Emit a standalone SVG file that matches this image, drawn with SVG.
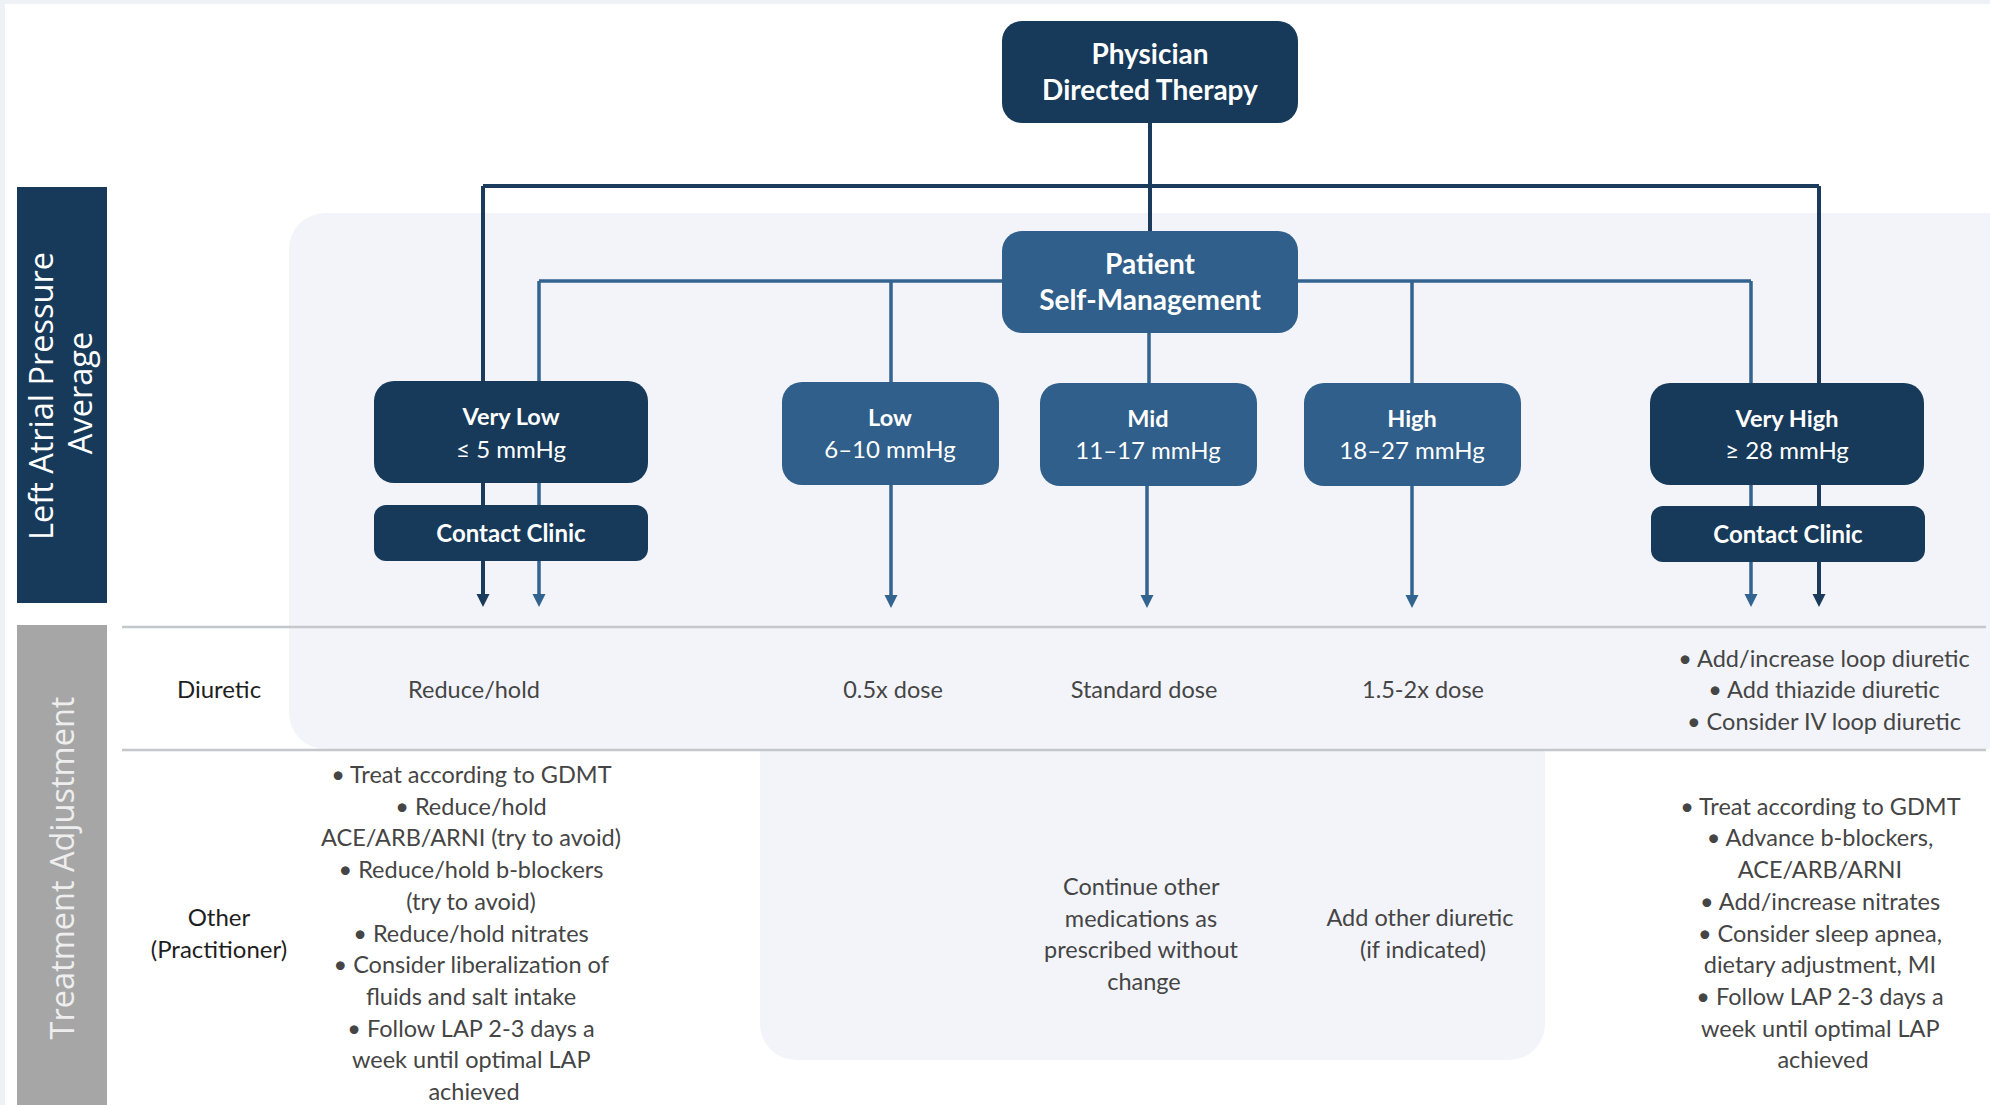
<svg xmlns="http://www.w3.org/2000/svg" width="1990" height="1105" viewBox="0 0 1990 1105">
  <style>
    .dark { fill: #173a5a; }
    .mid { fill: #2f5f8a; }
    .ttl { font-family: Lato, "Liberation Sans", sans-serif; font-weight: 700; fill: #ffffff; text-anchor: middle; }
    .sub { font-family: Lato, "Liberation Sans", sans-serif; font-weight: 400; fill: #ffffff; text-anchor: middle; font-size: 24px; }
    .body { font-family: Lato, "Liberation Sans", sans-serif; font-weight: 400; fill: #454545; text-anchor: middle; font-size: 23.5px; }
    .rowlbl { font-family: Lato, "Liberation Sans", sans-serif; font-weight: 400; fill: #1e1e1e; text-anchor: middle; font-size: 24px; }
    .side { font-family: "Open Sans", "Liberation Sans", sans-serif; font-size: 32.5px; text-anchor: middle; }
    .cdark { stroke: #1b3b5c; stroke-width: 4; fill: none; }
    .cmid { stroke: #33638f; stroke-width: 3.5; fill: none; }
    .sep { stroke: #c4c7cc; stroke-width: 2.5; }
  </style>
  <defs>
    <marker id="arrDark" markerUnits="userSpaceOnUse" markerWidth="14" markerHeight="14" refX="0" refY="6.5" orient="auto">
      <path d="M0,0 L13,6.5 L0,13 Z" fill="#1b3b5c"/>
    </marker>
    <marker id="arrMid" markerUnits="userSpaceOnUse" markerWidth="14" markerHeight="14" refX="0" refY="6.5" orient="auto">
      <path d="M0,0 L13,6.5 L0,13 Z" fill="#33638f"/>
    </marker>
  </defs>

  <!-- background -->
  <rect x="0" y="0" width="1990" height="1105" fill="#ffffff"/>
  <rect x="0" y="0" width="1990" height="4" fill="#eef2f7"/>
  <rect x="0" y="0" width="5" height="1105" fill="#eef2f7"/>

  <!-- shaded panels -->
  <g id="panels">
    <rect x="289" y="213" width="1740" height="536" rx="36" fill="#f2f4f9"/>
    <path d="M760,740 H1545 V1024 A36,36 0 0 1 1509,1060 H796 A36,36 0 0 1 760,1024 Z" fill="#f2f4f9"/>
  </g>

  <!-- side labels -->
  <g id="side-lap">
    <rect x="17" y="187" width="90" height="416" fill="#173a5a"/>
    <text class="side" fill="#ffffff" transform="rotate(-90)" x="-396" y="53">Left Atrial Pressure</text>
    <text class="side" fill="#ffffff" transform="rotate(-90)" x="-393" y="92">Average</text>
  </g>
  <g id="side-treat">
    <rect x="17" y="625" width="90" height="480" fill="#a6a6a6"/>
    <text class="side" fill="#eeeeee" transform="rotate(-90)" x="-868" y="74">Treatment Adjustment</text>
  </g>

  <!-- row separators -->
  <g id="separators">
    <line class="sep" x1="122" y1="627" x2="1986" y2="627"/>
    <line class="sep" x1="122" y1="750" x2="1986" y2="750"/>
  </g>

  <!-- connectors -->
  <g id="connectors">
    <path class="cdark" d="M1150,123 V231"/>
    <path class="cdark" d="M483,186 H1819"/>
    <path class="cdark" d="M483,186 V594" marker-end="url(#arrDark)"/>
    <path class="cdark" d="M1819,186 V594" marker-end="url(#arrDark)"/>
    <path class="cmid" d="M539,281 H1751"/>
    <path class="cmid" d="M539,281 V594" marker-end="url(#arrMid)"/>
    <path class="cmid" d="M1751,281 V594" marker-end="url(#arrMid)"/>
    <path class="cmid" d="M891,281 V384"/>
    <path class="cmid" d="M891,484 V595" marker-end="url(#arrMid)"/>
    <path class="cmid" d="M1149,333 V384"/>
    <path class="cmid" d="M1147,485 V595" marker-end="url(#arrMid)"/>
    <path class="cmid" d="M1412,281 V385"/>
    <path class="cmid" d="M1412,485 V595" marker-end="url(#arrMid)"/>
  </g>

  <!-- nodes -->
  <g id="physician">
    <rect class="dark" x="1002" y="21" width="296" height="102" rx="20"/>
    <text class="ttl" font-size="28" x="1150" y="64">Physician</text>
    <text class="ttl" font-size="28" x="1150" y="100">Directed Therapy</text>
  </g>
  <g id="patient">
    <rect class="mid" x="1002" y="231" width="296" height="102" rx="20"/>
    <text class="ttl" font-size="28" x="1150" y="274">Patient</text>
    <text class="ttl" font-size="28" x="1150" y="310">Self-Management</text>
  </g>
  <g id="very-low">
    <rect class="dark" x="374" y="381" width="274" height="102" rx="20"/>
    <text class="ttl" font-size="23.5" x="511" y="425">Very Low</text>
    <text class="sub" x="511" y="458">≤ 5 mmHg</text>
  </g>
  <g id="contact-low">
    <rect class="dark" x="374" y="505" width="274" height="56" rx="12"/>
    <text class="ttl" font-size="24" x="511" y="542">Contact Clinic</text>
  </g>
  <g id="low">
    <rect class="mid" x="782" y="382" width="217" height="103" rx="20"/>
    <text class="ttl" font-size="23.5" x="890" y="426">Low</text>
    <text class="sub" x="890" y="458">6–10 mmHg</text>
  </g>
  <g id="mid">
    <rect class="mid" x="1040" y="383" width="217" height="103" rx="20"/>
    <text class="ttl" font-size="23.5" x="1148" y="427">Mid</text>
    <text class="sub" x="1148" y="459">11–17 mmHg</text>
  </g>
  <g id="high">
    <rect class="mid" x="1304" y="383" width="217" height="103" rx="20"/>
    <text class="ttl" font-size="23.5" x="1412" y="427">High</text>
    <text class="sub" x="1412" y="459">18–27 mmHg</text>
  </g>
  <g id="very-high">
    <rect class="dark" x="1650" y="383" width="274" height="102" rx="20"/>
    <text class="ttl" font-size="23.5" x="1787" y="427">Very High</text>
    <text class="sub" x="1787" y="459">≥ 28 mmHg</text>
  </g>
  <g id="contact-high">
    <rect class="dark" x="1651" y="506" width="274" height="56" rx="12"/>
    <text class="ttl" font-size="24" x="1788" y="543">Contact Clinic</text>
  </g>

  <!-- table text -->
  <g id="row-diuretic">
    <text class="rowlbl" x="219" y="698">Diuretic</text>
    <text class="body" x="474" y="698">Reduce/hold</text>
    <text class="body" x="893" y="698">0.5x dose</text>
    <text class="body" x="1144" y="698">Standard dose</text>
    <text class="body" x="1423" y="698">1.5-2x dose</text>
    <text class="body" x="1824" y="667">• Add/increase loop diuretic</text>
    <text class="body" x="1824" y="698">• Add thiazide diuretic</text>
    <text class="body" x="1824" y="730">• Consider IV loop diuretic</text>
  </g>
  <g id="row-other">
    <text class="rowlbl" x="219" y="926">Other</text>
    <text class="rowlbl" x="219" y="958">(Practitioner)</text>
    <text class="body" x="474" y="783">
      <tspan x="474" y="783">• Treat according to GDMT</tspan>
      <tspan x="474" y="815">• Reduce/hold</tspan>
      <tspan x="474" y="846">ACE/ARB/ARNI (try to avoid)</tspan>
      <tspan x="474" y="878">• Reduce/hold b-blockers</tspan>
      <tspan x="474" y="910">(try to avoid)</tspan>
      <tspan x="474" y="942">• Reduce/hold nitrates</tspan>
      <tspan x="474" y="973">• Consider liberalization of</tspan>
      <tspan x="474" y="1005">fluids and salt intake</tspan>
      <tspan x="474" y="1037">• Follow LAP 2-3 days a</tspan>
      <tspan x="474" y="1068">week until optimal LAP</tspan>
      <tspan x="474" y="1100">achieved</tspan>
    </text>
    <text class="body" x="1144" y="895">
      <tspan x="1144" y="895">Continue other</tspan>
      <tspan x="1144" y="927">medications as</tspan>
      <tspan x="1144" y="958">prescribed without</tspan>
      <tspan x="1144" y="990">change</tspan>
    </text>
    <text class="body" x="1423" y="926">
      <tspan x="1423" y="926">Add other diuretic</tspan>
      <tspan x="1423" y="958">(if indicated)</tspan>
    </text>
    <text class="body" x="1823" y="815">
      <tspan x="1823" y="815">• Treat according to GDMT</tspan>
      <tspan x="1823" y="846">• Advance b-blockers,</tspan>
      <tspan x="1823" y="878">ACE/ARB/ARNI</tspan>
      <tspan x="1823" y="910">• Add/increase nitrates</tspan>
      <tspan x="1823" y="942">• Consider sleep apnea,</tspan>
      <tspan x="1823" y="973">dietary adjustment, MI</tspan>
      <tspan x="1823" y="1005">• Follow LAP 2-3 days a</tspan>
      <tspan x="1823" y="1037">week until optimal LAP</tspan>
      <tspan x="1823" y="1068">achieved</tspan>
    </text>
  </g>
</svg>
